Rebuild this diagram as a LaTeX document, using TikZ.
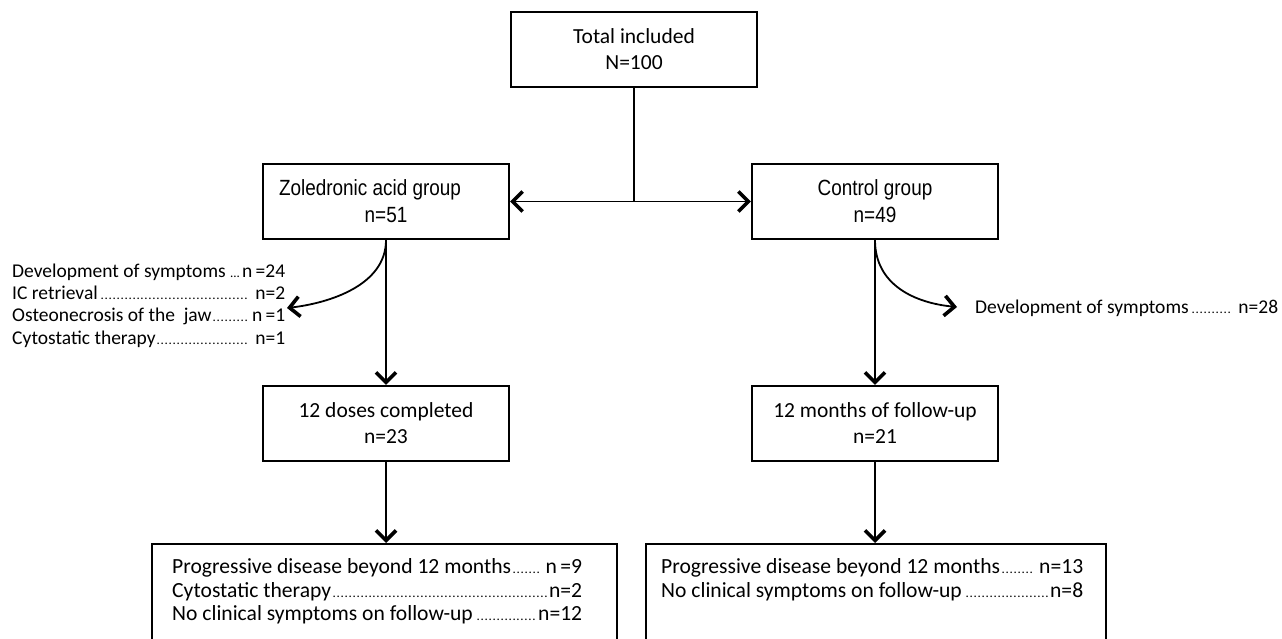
\documentclass[tikz,border=0pt]{standalone}
\usepackage{fontspec}
\setmainfont{Carlito}
\newfontfamily\narrowfont[FakeStretch=0.86]{Liberation Sans}
\usetikzlibrary{arrows.meta}
\newcommand{\dotsfont}{\fontsize{13}{13}\selectfont}
\newcommand{\ldr}[3]{\hbox to #1{#2\leaders\hbox to 4pt{\hss\dotsfont.\hss}\hfill#3}}
\tikzset{
  box/.style={draw, line width=2.2pt, minimum width=246pt, minimum height=75pt,
    align=center, inner sep=0pt, font=\fontsize{21.5}{26}\selectfont},
  grp/.style={box, font=\narrowfont\fontsize{22}{27}\selectfont},
  bigbox/.style={draw, line width=2.2pt, minimum height=140pt, inner sep=0pt, anchor=north west},
  listA/.style={anchor=base west, inner sep=0pt, font=\fontsize{19.5}{22}\selectfont},
  listB/.style={anchor=base west, inner sep=0pt, font=\fontsize{21.6}{24}\selectfont},
  conn/.style={line width=1.8pt},
  arr/.style={conn, -{Straight Barb[length=10pt,width=20pt,line width=3.6pt]}},
}
\begin{document}
\begin{tikzpicture}[x=1pt,y=-1pt]
\useasboundingbox (0,0) rectangle (1282,639);
\clip (0,0) rectangle (1282,639);

% boxes
\node[box] (total) at (634,49.5) {Total included\\N=100};
\node[grp] (zol) at (386,201.5) {Zoledronic acid group\hspace*{32pt}\\n=51};
\node[grp] (ctrl) at (875,201.5) {Control group\\n=49};
\node[box] (dose) at (386,423.5) {12 doses completed\\n=23};
\node[box] (month) at (875,423.5) {12 months of follow-up\\n=21};
\node[bigbox, minimum width=465pt] (zfin) at (151,543) {};
\node[bigbox, minimum width=460pt] (cfin) at (645,543) {};

% drop-out list, zoledronic group
\node[listA] (l1) at (12,277) {\hbox to 273pt{Development of symptoms {\dotsfont...}\hfill n\,=24}};
\node[listA] (l2) at (12,299.3) {\ldr{273pt}{IC retrieval}{ n=2}};
\node[listA] (l3) at (12,321.6) {\ldr{273pt}{Osteonecrosis of the\ \ jaw}{n\,=1}};
\node[listA] (l4) at (12,344) {\ldr{273pt}{Cytostatic therapy}{ n=1}};
% drop-out, control group
\node[listA] (r1) at (975,313) {\ldr{303pt}{Development of symptoms}{ n=28}};

% outcome lists
\node[listB] (b1) at (172,573) {\ldr{410pt}{Progressive disease beyond 12 months}{ n\,=9}};
\node[listB] (b2) at (172,597) {\ldr{410pt}{Cytostatic therapy}{n=2}};
\node[listB] (b3) at (172,620) {\ldr{410pt}{No clinical symptoms on follow-up}{n=12}};
\node[listB] (c1) at (661,573) {\ldr{422pt}{Progressive disease beyond 12 months}{ n=13}};
\node[listB] (c2) at (661,597) {\ldr{422pt}{No clinical symptoms on follow-up}{n=8}};

% connectors
\coordinate (split) at (total.south |- zol.east);
\draw[conn] (total.south) -- (split);
\draw[arr] (split) -- (zol.east);
\draw[arr] (split) -- (ctrl.west);

\draw[arr] (zol.south) -- (dose.north);
\draw[arr] (ctrl.south) -- (month.north);
\draw[arr] (dose.south) -- (dose.south |- zfin.north);
\draw[arr] (month.south) -- (month.south |- cfin.north);

\coordinate (ltip) at (287,308);
\coordinate (rtip) at (957,307);
\draw[arr] (zol.south) .. controls (386,285) and (330,303) .. (ltip);
\draw[arr] (ctrl.south) .. controls (875,285) and (915,303) .. (rtip);
\end{tikzpicture}
\end{document}
